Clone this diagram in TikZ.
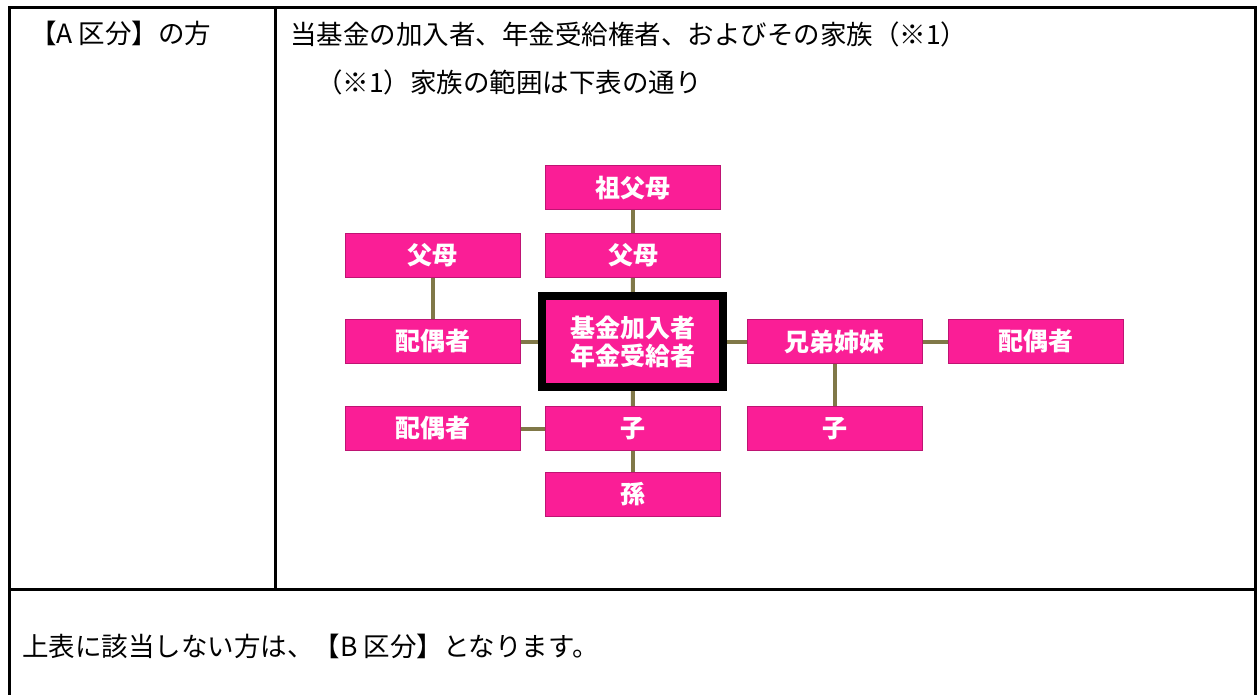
\documentclass[tikz,border=0pt]{standalone}
\usepackage{fontspec}
\setmainfont{Noto Sans CJK JP}
\usetikzlibrary{backgrounds}
\definecolor{kinpink}{RGB}{250,30,150}
\definecolor{kinedge}{RGB}{190,20,115}
\definecolor{tieolive}{RGB}{128,120,72}
\tikzset{
	txt/.style={inner sep=0pt,anchor=west,font=\fontsize{26.5}{30}\selectfont},
	kin/.style={draw=kinedge,fill=kinpink,line width=1pt,minimum width=175pt,minimum height=44pt,inner sep=0pt,text=white,font=\fontsize{25}{28}\selectfont\bfseries},
	selfbox/.style={kin,draw=black,line width=8pt,minimum width=181pt,minimum height=91pt,align=center},
	tie/.style={draw=tieolive,line width=4pt},
	rule/.style={line width=3pt}
}
\begin{document}
\begin{tikzpicture}[x=1pt,y=-1pt]
	\useasboundingbox (0,0) rectangle (1258,695);
	% table
	\draw[rule] (9,695)--(9,7.5)--(1255,7.5)--(1255,695);
	\draw[rule] (9,589)--(1255,589);
	\draw[rule] (275,7.5)--(275,589);
	\node[txt] (kubunA) at (30,33) {【A 区分】の方};
	\node[txt] (target) at (290,34) {当基金の加入者、年金受給権者、およびその家族（※1）};
	\node[txt] (note) at (316,82) {（※1）家族の範囲は下表の通り};
	\node[txt] (kubunB) at (22,646) {上表に該当しない方は、【B 区分】となります。};
	% family chart
	\node[kin] (gparent) at (633,188) {祖父母};
	\node[kin] (parent) at (633,255) {父母};
	\node[kin] (inlaw) at (432.5,255) {父母};
	\node[kin] (spouse) at (432.5,341.5) {配偶者};
	\node[selfbox] (self) at (632.5,341.5) {基金加入者\\年金受給者};
	\node[kin] (sibling) at (834.5,341.5) {兄弟姉妹};
	\node[kin] (sibspouse) at (1035.5,341.5) {配偶者};
	\node[kin] (chspouse) at (432.5,428.5) {配偶者};
	\node[kin] (child) at (633,428.5) {子};
	\node[kin] (sibchild) at (834.5,428.5) {子};
	\node[kin] (gchild) at (633,494) {孫};
	\begin{scope}[on background layer]
		\draw[tie] (gparent)--(parent);
		\draw[tie] (parent)--(self);
		\draw[tie] (inlaw)--(spouse);
		\draw[tie] (spouse)--(self);
		\draw[tie] (self)--(sibling);
		\draw[tie] (sibling)--(sibspouse);
		\draw[tie] (sibling)--(sibchild);
		\draw[tie] (self)--(child);
		\draw[tie] (chspouse)--(child);
		\draw[tie] (child)--(gchild);
	\end{scope}
\end{tikzpicture}
\end{document}
